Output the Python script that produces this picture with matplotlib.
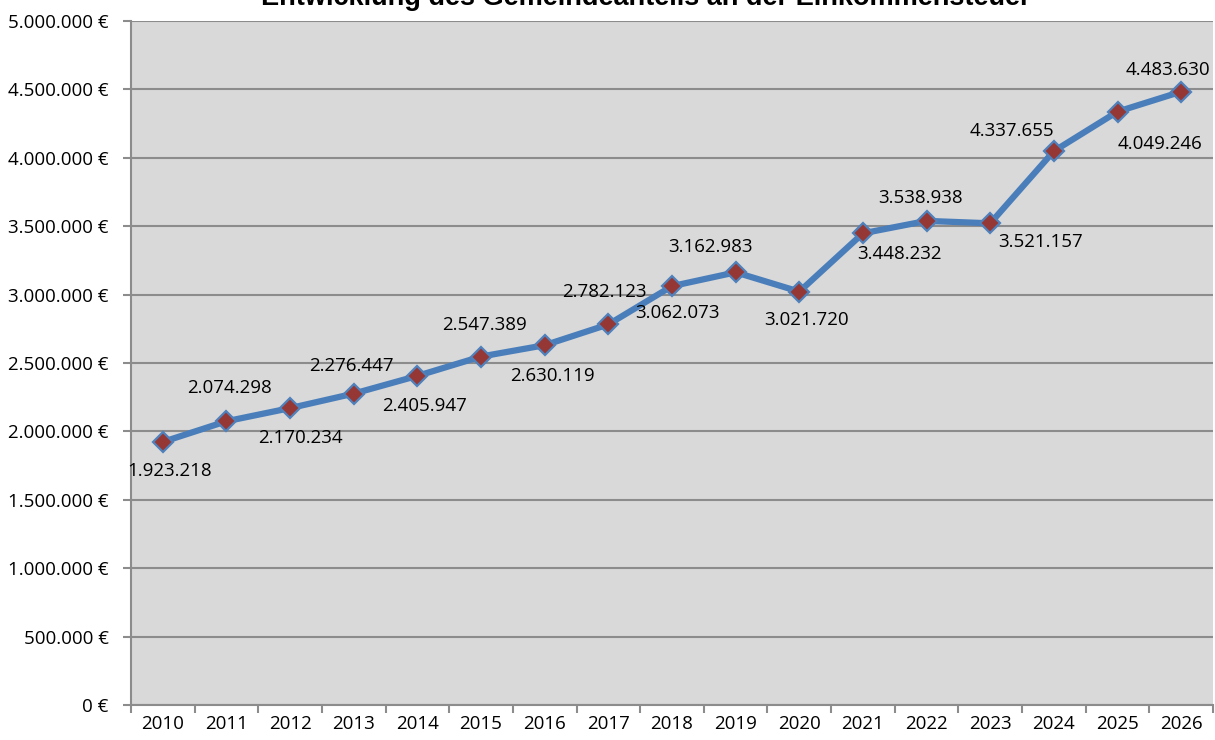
import matplotlib

matplotlib.use("Agg")
import matplotlib.pyplot as plt
from matplotlib.ticker import FuncFormatter, FixedLocator
import numpy as np

years = [2010, 2011, 2012, 2013, 2014, 2015, 2016, 2017, 2018,
         2019, 2020, 2021, 2022, 2023, 2024, 2025, 2026]
values = [1923218, 2074298, 2170234, 2276447, 2405947, 2547389, 2630119,
          2782123, 3062073, 3162983, 3021720, 3448232, 3538938, 3521157,
          4049246, 4337655, 4483630]
title = "Entwicklung des Gemeindeanteils an der Einkommensteuer"

# label offsets (pixels) relative to each data point, as placed in the original
label_offsets = [(7, -29), (3, 33), (10, -30), (-2, 28), (7, -30), (3, 32),
                 (8, -31), (-4, 32), (5, -27), (-25, 25), (7, -28),
                 (36, -21), (-6, 23), (50, -19), (106, 7), (-106, -19), (-13, 22)]

FONT = "Open Sans"


def de_number(v):
    return f"{v:,.0f}".replace(",", ".")


fig = plt.figure(figsize=(12.15, 7.4), dpi=100)
ax = fig.add_axes([0.1078, 0.0473, 0.8906, 0.9243])
ax.set_facecolor("#D9D9D9")

x = np.arange(len(years))
ax.plot(x, values, color="#4A7EBB", lw=4.5, marker="D", ms=10.5,
        mfc="#953735", mec="#4F81BD", mew=1.6, zorder=3, solid_capstyle="round")

for xi, v, (dx, dy) in zip(x, values, label_offsets):
    ax.annotate(de_number(v), (xi, v), xytext=(dx, dy), textcoords="offset pixels",
                ha="center", va="center", fontsize=13.5, family=FONT,
                color="black", zorder=4)

ax.set_xlim(-0.5, len(years) - 0.5)
ax.set_ylim(0, 5000000)
ax.yaxis.set_major_locator(FixedLocator(np.arange(0, 5000001, 500000)))
ax.yaxis.set_major_formatter(FuncFormatter(lambda v, _: f"{de_number(v)} €"))
ax.grid(axis="y", color="#8C8C8C", lw=1.5, zorder=1)
ax.set_axisbelow(True)

ax.set_xticks(x)
ax.set_xticklabels([str(y) for y in years])
ax.set_xticks(np.arange(-0.5, len(years), 1.0), minor=True)
ax.tick_params(axis="x", which="major", length=0, pad=7)
ax.tick_params(axis="x", which="minor", length=6, width=1.5, color="#8C8C8C")
ax.tick_params(axis="y", length=6, width=1.5, color="#8C8C8C", pad=10)
for lab in ax.get_xticklabels() + ax.get_yticklabels():
    lab.set_family(FONT)
    lab.set_fontsize(13.5)
    lab.set_color("black")

for side in ("top", "right"):
    ax.spines[side].set_visible(False)
for side in ("left", "bottom"):
    ax.spines[side].set_color("#8C8C8C")
    ax.spines[side].set_linewidth(1.5)

# title sits partly above the canvas, as in the original export
fig.text(646 / 1215, 1 - 5 / 740, title, ha="center", va="baseline",
         fontsize=19.5, fontweight="bold", family="Liberation Sans")

fig.savefig("out.png", dpi=100)
